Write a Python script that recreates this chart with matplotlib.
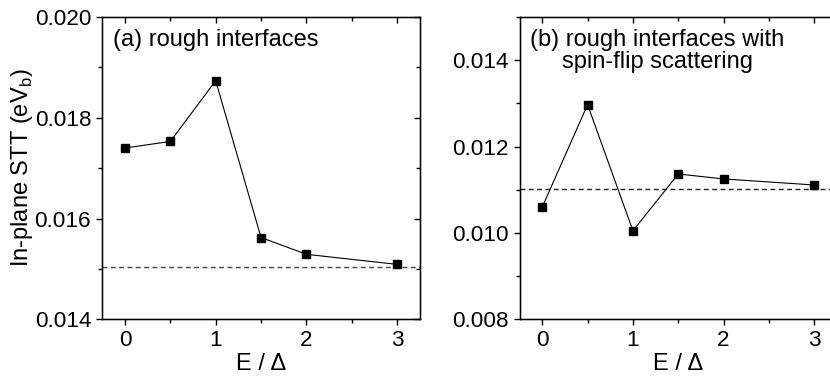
import matplotlib
matplotlib.use("Agg")
import matplotlib.pyplot as plt
from matplotlib.ticker import FormatStrFormatter, MultipleLocator

plt.rcParams['font.family'] = ['Liberation Sans', 'DejaVu Sans']

E = [0, 0.5, 1, 1.5, 2, 3]
stt_a = [0.01740, 0.01753, 0.018735, 0.015623, 0.01529, 0.01509]
stt_b = [0.01060, 0.01297, 0.01005, 0.011365, 0.01125, 0.01111]
ref_a = 0.01504
ref_b = 0.01102

fig = plt.figure(figsize=(8.3, 3.78), dpi=100)
axA = fig.add_axes([0.1233, 0.1553, 0.3824, 0.7997])
axB = fig.add_axes([0.6260, 0.1553, 0.3824, 0.7997])

def style(ax, ylim, major, minor):
    ax.set_xlim(-0.25, 3.25)
    ax.set_ylim(*ylim)
    ax.xaxis.set_major_locator(MultipleLocator(1))
    ax.xaxis.set_minor_locator(MultipleLocator(0.5))
    ax.yaxis.set_major_locator(MultipleLocator(major))
    ax.yaxis.set_minor_locator(MultipleLocator(minor))
    ax.yaxis.set_major_formatter(FormatStrFormatter('%.3f'))
    ax.tick_params(axis='both', which='both', labelsize=16.2, colors='black',
                   width=1, direction='out')
    ax.tick_params(axis='both', which='major', length=4.5, pad=3.5)
    ax.tick_params(axis='both', which='minor', length=3)
    for s in ax.spines.values():
        s.set_linewidth(1.0)
    # inward ticks on top and right
    tx = ax.twiny()
    tx.set_xlim(ax.get_xlim())
    tx.xaxis.set_major_locator(MultipleLocator(1))
    tx.xaxis.set_minor_locator(MultipleLocator(0.5))
    tx.tick_params(axis='x', which='both', direction='in', labeltop=False, width=1)
    tx.tick_params(axis='x', which='major', length=4.5)
    tx.tick_params(axis='x', which='minor', length=3)
    ty = ax.twinx()
    ty.set_ylim(ax.get_ylim())
    ty.yaxis.set_major_locator(MultipleLocator(major))
    ty.yaxis.set_minor_locator(MultipleLocator(minor))
    ty.tick_params(axis='y', which='both', direction='in', labelright=False, width=1)
    ty.tick_params(axis='y', which='major', length=4.5)
    ty.tick_params(axis='y', which='minor', length=3)
    ax.set_xlabel('E / Δ', fontsize=17, labelpad=1)

style(axA, (0.014, 0.020), 0.002, 0.001)
style(axB, (0.008, 0.015), 0.002, 0.001)

axA.plot(E, stt_a, color='black', lw=0.8, marker='s', ms=5.5, zorder=3)
axA.axhline(ref_a, color='#444444', lw=1.0, ls=(0, (3.5, 2.5)))
axB.plot(E, stt_b, color='black', lw=0.8, marker='s', ms=5.5, zorder=3)
axB.axhline(ref_b, color='#222222', lw=1.0, ls=(0, (3.5, 2.5)))

axA.set_ylabel('In-plane STT (eV$_\\mathregular{b}$)', fontsize=17, labelpad=0)

axA.text(0.034, 0.924, '(a) rough interfaces', transform=axA.transAxes,
         fontsize=17, ha='left', va='center')
axB.text(0.433, 0.8875, '(b) rough interfaces with\nspin-flip scattering',
         transform=axB.transAxes, fontsize=17, ha='center', va='center',
         multialignment='center', linespacing=1.05)

fig.savefig('out.png', dpi=100)
